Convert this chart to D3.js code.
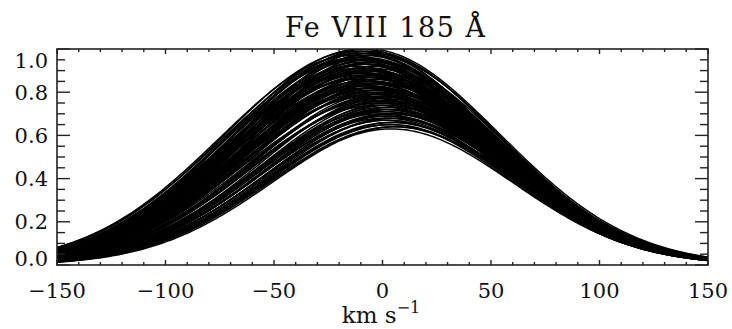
<!DOCTYPE html>
<html>
<head>
<meta charset="utf-8">
<script src="https://cdn.jsdelivr.net/npm/d3@7/dist/d3.min.js"></script>
<style>
  html, body { margin: 0; padding: 0; background: #fff; }
  svg { display: block; }
  text { font-family: "DejaVu Serif", serif; fill: #111; }
</style>
</head>
<body>
<svg id="chart" width="732" height="329"></svg>
<script>
// ---- Data ----
// Each profile: peak intensity, Doppler shift of the centre (km/s), Gaussian width (km/s)
const peakAmp = [1.00,0.99,0.99,0.98,0.97,0.97,0.96,0.96,0.95,0.95,0.94,0.94,0.93,0.93,0.92,0.92,
  0.91,0.91,0.90,0.90,0.89,0.89,0.88,0.88,0.87,0.87,0.86,0.86,0.85,0.85,0.84,0.84,0.83,0.83,0.82,0.82,
  0.81,0.81,0.80,0.80,0.79,0.79,0.78,0.78,0.77,0.76,0.76,0.75,0.74,0.74,0.73,0.72,0.72,0.71,0.70,0.70,
  0.69,0.68,0.68,0.67,0.66,0.65,0.64,0.63,
  1.00,0.99,0.98,0.98,0.97,0.96,0.95,0.95,0.94,0.93,0.93,0.92,0.91,0.91,0.90,0.90,0.89,0.88,0.88,0.87,
  0.87,0.86,0.85,0.85,0.84,0.84,0.83,0.82,0.82,0.81,0.80,0.80,0.79,0.78,0.78,0.77,0.76,0.75,0.75,0.74,
  0.73,0.72,0.71,0.70,0.69,0.68,0.67,0.66,0.65,0.64];
const peakVel = [-10,-12,-6,-9,-14,-4,-8,-11,-7,-13,-5,-9,-10,-6,-12,-3,
  -8,-11,-5,-9,-7,-13,-4,-10,-6,-8,-2,-11,-5,-9,-7,-3,-10,-6,-4,-8,
  -1,-6,-9,-3,-5,0,-7,-2,1,-4,2,-1,3,-3,1,4,0,2,5,-1,
  3,1,5,2,4,3,5,4,
  -7,-9,-11,-5,-8,-12,-6,-10,-3,-9,-7,-5,-11,-4,-8,-6,-10,-3,-7,-9,
  -2,-5,-8,-4,-6,-1,-7,-3,-5,-2,-6,0,-4,-1,2,-3,0,3,-2,1,
  4,2,0,3,1,4,2,5,4,6];
const lineWidth = [60,61,59,60,61,59,60,61,59,60,60,61,59,60,61,59,
  60,60,61,59,60,61,59,60,60,61,59,60,59,61,60,60,59,61,60,59,
  60,61,59,60,60,59,60,58,59,60,58,59,58,59,58,58,59,57,58,58,
  57,58,57,57,57,56,57,56,
  61,60,61,59,60,62,60,61,59,60,61,60,61,59,60,60,61,59,60,61,
  59,60,60,59,61,59,60,59,60,59,60,59,60,59,58,59,59,58,59,58,
  58,58,59,58,57,57,57,57,56,56];
const xTickValues = [-150,-100,-50,0,50,100,150];
const yTickValues = [0.0,0.2,0.4,0.6,0.8,1.0];
const titleText = "Fe VIII 185 Å";
const xTitle = "km s";
const xTitleSup = "\u22121";

// ---- Layout ----
const svg = d3.select("#chart");
const L = 57, R = 708, T = 49, B = 265;
const x = d3.scaleLinear().domain([-150,150]).range([L,R]);
const y = d3.scaleLinear().domain([0,1]).range([B,T]);

svg.append("defs").append("clipPath").attr("id","plotclip")
  .append("rect").attr("x",L).attr("y",T).attr("width",R-L).attr("height",B-T);

// velocity grid for drawing the profiles
const vel = d3.range(-150, 150.001, 1.5);
const profiles = peakAmp.map((a,i) => vel.map(v => [v, a*Math.exp(-Math.pow(v-peakVel[i],2)/(2*lineWidth[i]*lineWidth[i]))]));

const line = d3.line().x(d=>x(d[0])).y(d=>y(d[1])).curve(d3.curveLinear);
svg.append("g").attr("clip-path","url(#plotclip)")
  .selectAll("path").data(profiles).join("path")
  .attr("d", line).attr("fill","none").attr("stroke","#000").attr("stroke-width",1.5);

// ---- Axes (ticks inward on all four sides) ----
const axisColor = "#222";
function addTicks(g, values, fn) {
  g.selectAll("line").data(values).join("line").each(fn)
   .attr("stroke",axisColor).attr("stroke-width",1.4);
}
const xMinor = d3.range(-150,150.001,10);
const yMinor = d3.range(0,1.0001,0.05);
const isMajorX = v => Math.abs(v % 50) < 1e-6;
const isMajorY = v => Math.abs(Math.round(v*100) % 20) < 1e-6;

// bottom & top
addTicks(svg.append("g"), xMinor, function(v){ const l = isMajorX(v)?5:3;
  d3.select(this).attr("x1",x(v)).attr("x2",x(v)).attr("y1",B).attr("y2",B-l); });
addTicks(svg.append("g"), xMinor, function(v){ const l = isMajorX(v)?5:3;
  d3.select(this).attr("x1",x(v)).attr("x2",x(v)).attr("y1",T).attr("y2",T+l); });
// left & right
addTicks(svg.append("g"), yMinor, function(v){ const l = isMajorY(v)?13:8;
  d3.select(this).attr("x1",L).attr("x2",L+l).attr("y1",y(v)).attr("y2",y(v)); });
addTicks(svg.append("g"), yMinor, function(v){ const l = isMajorY(v)?13:8;
  d3.select(this).attr("x1",R).attr("x2",R-l).attr("y1",y(v)).attr("y2",y(v)); });

svg.append("rect").attr("x",L).attr("y",T).attr("width",R-L).attr("height",B-T)
  .attr("fill","none").attr("stroke",axisColor).attr("stroke-width",1.6);

// tick labels
const fmtX = v => (v<0 ? "\u2212" : "") + Math.abs(v);
svg.append("g").selectAll("text").data(xTickValues).join("text")
  .attr("x", v => x(v)).attr("y", 298).attr("text-anchor","middle")
  .style("font-size","21px").text(fmtX);

svg.append("g").selectAll("text").data(yTickValues).join("text")
  .attr("x", 48).attr("y", v => y(v) + (v===1 ? 11 : (v===0 ? -7 : 0)))
  .attr("dy","0.36em").attr("text-anchor","end")
  .style("font-size","21px").text(v => v.toFixed(1));

// title
svg.append("text").attr("x",385).attr("y",37).attr("text-anchor","middle")
  .attr("textLength",200).attr("lengthAdjust","spacing")
  .style("font-size","27px").style("white-space","pre").text(titleText);

// x axis title
const xt = svg.append("text").attr("x",381).attr("y",323).attr("text-anchor","middle")
  .style("font-size","23px");
xt.append("tspan").text(xTitle);
xt.append("tspan").attr("dy",-10).style("font-size","16px").text(xTitleSup);
</script>
</body>
</html>
